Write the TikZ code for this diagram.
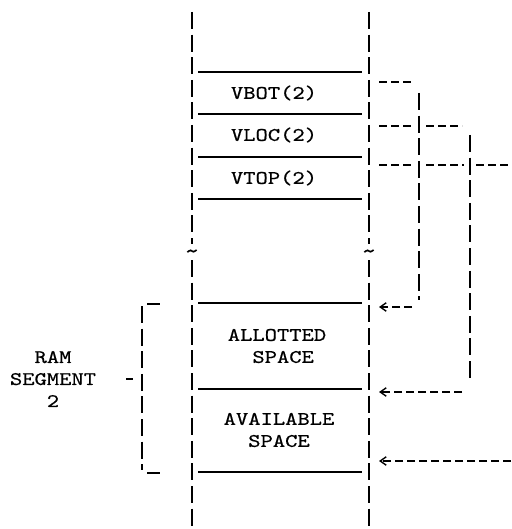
\documentclass[tikz,border=0pt]{standalone}
\usepackage{fontspec}
\setmainfont{Latin Modern Mono}[FakeStretch=1.22, FakeBold=0.6]
\usetikzlibrary{arrows.meta, positioning, calc}
\tikzset{
  colline/.style={line width=0.6pt, dash pattern=on 8.5pt off 2.8pt},
  slot/.style={line width=0.8pt},
  link/.style={line width=0.8pt, dash pattern=on 4pt off 2pt},
  ptr/.style={link, -{Straight Barb[length=3pt, width=4.2pt, line width=0.7pt]}, shorten >=0.5pt},
  lbl/.style={font=\fontsize{9.6}{11}\selectfont, align=center, inner sep=0pt},
  cut/.style={font=\fontsize{12}{12}\selectfont, inner sep=0pt},
}

\begin{document}
\begin{tikzpicture}[x=0.5pt, y=-0.5pt]
  \useasboundingbox (0,0) rectangle (511,529);

  % Memory column
  \draw[colline] (192,12) -- (192,244);
  \draw[colline] (192,260) -- (192,529);
  \draw[colline] (369,12) -- (369,244);
  \draw[colline] (369,260) -- (369,529);
  \node[cut] (brkL) at (192,254) {\textasciitilde};
  \node[cut] (brkR) at (369,254) {\textasciitilde};

  % Slots
  \foreach \y in {72,114,157,199,303,389,472}
    \draw[slot] (198,\y) -- (362,\y);

  \node[lbl] (vbot) at (274,93) {VBOT(2)};
  \node[lbl] (vloc) at (274,135) {VLOC(2)};
  \node[lbl] (vtop) at (274,178) {VTOP(2)};
  \node[lbl] (allot) at (277,346) {ALLOTTED\\\ SPACE};
  \node[lbl] (avail) at (279,430) {AVAILABLE\\SPACE};

  % RAM segment bracket
  \node[lbl] (ram) at (53,379) {RAM\\SEGMENT\\2};
  \draw[colline] (142,306) -- (142,470);
  \draw[line width=0.8pt] (147,304) -- (160,304);
  \draw[line width=0.8pt] (147,473) -- (160,473);
  \draw[line width=0.8pt] (126,379) -- (133,379);

  % Pointers
  \coordinate (botFrom) at (379,82);
  \coordinate (botTo) at (378,307);
  \coordinate (locFrom) at (379,126);
  \coordinate (locTo) at (378,392);
  \coordinate (topFrom) at (379,165);
  \coordinate (topTo) at (378,461);

  \draw[link] (botFrom) -- (412,82);
  \draw[colline] (419,93) -- (419,300);
  \draw[ptr] (412,307) -- (botTo);

  \draw[link] (locFrom) -- (414,126) (426,126) -- (462,126);
  \draw[colline] (470,135) -- (470,383);
  \draw[ptr] (462,392) -- (locTo);

  \draw[link] (topFrom) -- (414,165) (426,165) -- (464,165) (476,165) -- (511,165);
  \draw[ptr] (511,461) -- (topTo);
\end{tikzpicture}
\end{document}
